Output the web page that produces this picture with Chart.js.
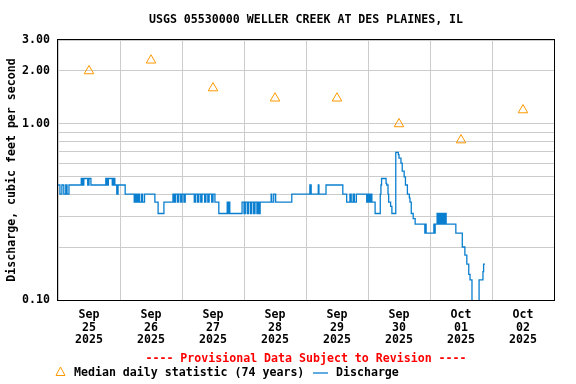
<!DOCTYPE html>
<html>
<head>
<meta charset="utf-8">
<title>USGS 05530000 Weller Creek</title>
<script src="https://cdn.jsdelivr.net/npm/chart.js"></script>
<style>
  html, body { margin: 0; padding: 0; background: #fff; }
  canvas { display: block; }
</style>
</head>
<body>
<canvas id="chart" width="576" height="384"></canvas>
<script>
// hours since 2025-09-25 00:00, value in cubic feet per second (stepped, 15-min data)
const dischargeHours = [
    0, 0.75, 1.5, 2.25, 3, 3.5, 4.25, 9, 9.5, 10, 11.5, 12, 12.75,
    18.5, 19, 19.5, 21, 21.5, 22, 22.75, 23.25, 26,
    29.5, 30, 30.5, 31, 31.5, 32.25, 32.75, 33.5, 37.5, 38.75, 41,
    44.5, 45, 45.5, 46.25, 46.75, 47.5, 48, 48.75, 49.25,
    52.75, 53.25, 54, 54.5, 55.25, 55.75, 56.75, 57.25, 58, 58.5, 59.5, 60, 60.75, 62.25,
    65.5, 65.75, 66.25, 66.5,
    71.25, 72, 72.5, 73.25, 73.75, 74.5, 75, 75.75, 76.25, 77, 77.5, 78, 78.25,
    82.5, 82.75, 83.5, 84.25,
    90.5, 97.5, 98, 100.75, 101, 103.75, 110.25, 111.75, 113, 113.5, 114.25, 114.75, 115.5,
    119.5, 120, 120.5, 121, 121.5, 122.75,
    124.75, 125, 125.25, 127, 127.25, 127.75, 128, 128.75, 129.25,
    130.75, 131.75, 132, 132.75, 133.25, 134, 134.5, 135.25, 136, 136.25, 136.75, 137.5, 138.25,
    142, 142.25, 142.5, 145.5, 145.75, 146, 146.75, 147.25, 147.75, 148.25, 148.75,
    149.25, 149.75, 150.25, 154, 156.5, 157.5, 158.25, 159, 159.5, 160.25,
    163, 164.5, 164.75, 165.25
];
const dischargeCfs = [
    0.45, 0.40, 0.45, 0.40, 0.45, 0.40, 0.45, 0.49, 0.45, 0.49, 0.45, 0.49, 0.45,
    0.49, 0.45, 0.49, 0.45, 0.49, 0.45, 0.40, 0.45, 0.40,
    0.36, 0.40, 0.36, 0.40, 0.36, 0.40, 0.36, 0.40, 0.36, 0.31, 0.36,
    0.40, 0.36, 0.40, 0.36, 0.40, 0.36, 0.40, 0.36, 0.40,
    0.36, 0.40, 0.36, 0.40, 0.36, 0.40, 0.36, 0.40, 0.36, 0.40, 0.36, 0.40, 0.36, 0.31,
    0.36, 0.31, 0.36, 0.31,
    0.36, 0.31, 0.36, 0.31, 0.36, 0.31, 0.36, 0.31, 0.36, 0.31, 0.36, 0.31, 0.36,
    0.40, 0.36, 0.40, 0.36,
    0.40, 0.45, 0.40, 0.45, 0.40, 0.45, 0.40, 0.36, 0.40, 0.36, 0.40, 0.36, 0.40,
    0.36, 0.40, 0.36, 0.40, 0.36, 0.31,
    0.40, 0.45, 0.49, 0.46, 0.45, 0.40, 0.36, 0.34, 0.31,
    0.69, 0.67, 0.64, 0.60, 0.54, 0.50, 0.45, 0.40, 0.38, 0.36, 0.31, 0.29, 0.27,
    0.24, 0.27, 0.24, 0.27, 0.24, 0.27, 0.31, 0.27, 0.31, 0.27, 0.31,
    0.27, 0.31, 0.27, 0.24, 0.20, 0.18, 0.16, 0.14, 0.13, 0.09,
    0.13, 0.145, 0.16, 0.16
];

// median daily statistic (74 years), plotted at noon of each day
const medianHours = [12, 36, 60, 84, 108, 132, 156, 180];
const medianCfs = [2.0, 2.3, 1.6, 1.4, 1.4, 1.0, 0.81, 1.2];

const dayMonths = ['Sep', 'Sep', 'Sep', 'Sep', 'Sep', 'Sep', 'Oct', 'Oct'];
const dayNumbers = ['25', '26', '27', '28', '29', '30', '01', '02'];
const dayYears = ['2025', '2025', '2025', '2025', '2025', '2025', '2025', '2025'];

const yGridValues = [0.1, 0.2, 0.3, 0.4, 0.5, 0.6, 0.7, 0.8, 0.9, 1, 2, 3];
const yLabelValues = [0.1, 1, 2, 3];

const titleText = 'USGS 05530000 WELLER CREEK AT DES PLAINES, IL';
const yTitleText = 'Discharge, cubic feet per second';
const provisionalText = '---- Provisional Data Subject to Revision ----';
const medianLabel = 'Median daily statistic (74 years)';
const dischargeLabel = 'Discharge';

const FONT_FAMILY = '"DejaVu Sans Mono", "Liberation Mono", monospace';
const FONT_SIZE = 11.6;
const BLUE = '#0a7fd0';
const ORANGE = '#ff9900';
const GRID = '#cccccc';

const xTickHours = [];
for (let h = 0; h <= 24 * dayNumbers.length; h += 12) xTickHours.push(h);

const usgsDecor = {
    id: 'usgsDecor',
    afterDraw(chart) {
        const { ctx, chartArea: a } = chart;
        const cx = (a.left + a.right) / 2;
        ctx.save();

        ctx.strokeStyle = '#000';
        ctx.lineWidth = 1;
        ctx.strokeRect(a.left - 0.5, a.top - 0.5, a.right - a.left + 1, a.bottom - a.top + 1);

        ctx.font = `bold ${FONT_SIZE}px ${FONT_FAMILY}`;
        ctx.textBaseline = 'middle';
        ctx.fillStyle = '#000';
        ctx.textAlign = 'center';
        ctx.fillText(titleText, cx, 20);

        ctx.fillStyle = '#ff0000';
        ctx.fillText(provisionalText, cx, 359);

        // legend row
        ctx.strokeStyle = ORANGE;
        ctx.lineWidth = 1;
        ctx.beginPath();
        ctx.moveTo(60.5, 367);
        ctx.lineTo(65, 375.5);
        ctx.lineTo(56, 375.5);
        ctx.closePath();
        ctx.stroke();

        ctx.fillStyle = '#000';
        ctx.textAlign = 'left';
        ctx.fillText(medianLabel, 74, 373);

        ctx.strokeStyle = BLUE;
        ctx.lineWidth = 1.3;
        ctx.beginPath();
        ctx.moveTo(313, 373);
        ctx.lineTo(328, 373);
        ctx.stroke();

        ctx.fillText(dischargeLabel, 336, 373);
        ctx.restore();
    }
};

new Chart(document.getElementById('chart'), {
    type: 'line',
    data: {
        datasets: [
            {
                label: dischargeLabel,
                data: dischargeHours.map((h, i) => ({ x: h, y: dischargeCfs[i] })),
                borderColor: BLUE,
                borderWidth: 1.3,
                stepped: true,
                pointRadius: 0,
                fill: false
            },
            {
                label: medianLabel,
                data: medianHours.map((h, i) => ({ x: h, y: medianCfs[i] })),
                showLine: false,
                pointStyle: 'triangle',
                pointRadius: 5.5,
                borderColor: ORANGE,
                backgroundColor: 'rgba(0,0,0,0)',
                borderWidth: 1
            }
        ]
    },
    options: {
        responsive: false,
        devicePixelRatio: 1,
        animation: false,
        layout: { padding: { top: 40, right: 22, left: 0, bottom: 0 } },
        plugins: {
            legend: { display: false },
            tooltip: { enabled: false },
            title: { display: false }
        },
        scales: {
            x: {
                type: 'linear',
                min: 0,
                max: 24 * dayNumbers.length,
                afterBuildTicks: scale => { scale.ticks = xTickHours.map(v => ({ value: v })); },
                afterFit: scale => { scale.height = 84; },
                border: { display: false },
                grid: {
                    drawTicks: false,
                    lineWidth: 1,
                    color: c => (c.tick && c.tick.value % 24 === 0) ? GRID : 'rgba(0,0,0,0)'
                },
                ticks: {
                    autoSkip: false,
                    maxRotation: 0,
                    minRotation: 0,
                    padding: 8,
                    color: '#000',
                    font: { family: FONT_FAMILY, size: FONT_SIZE, weight: 'bold', lineHeight: 1.12 },
                    callback: value => {
                        if (value % 24 !== 12) return '';
                        const d = Math.floor(value / 24);
                        return [dayMonths[d], dayNumbers[d], dayYears[d]];
                    }
                }
            },
            y: {
                type: 'logarithmic',
                min: 0.1,
                max: 3,
                afterBuildTicks: scale => { scale.ticks = yGridValues.map(v => ({ value: v })); },
                afterFit: scale => { scale.width = 58; },
                border: { display: false },
                grid: { drawTicks: false, color: GRID, lineWidth: 1 },
                ticks: {
                    padding: 8,
                    color: '#000',
                    font: { family: FONT_FAMILY, size: FONT_SIZE, weight: 'bold' },
                    callback: value => yLabelValues.includes(value) ? value.toFixed(2) : ''
                },
                title: {
                    display: true,
                    text: yTitleText,
                    color: '#000',
                    padding: { top: 5, bottom: 0 },
                    font: { family: FONT_FAMILY, size: FONT_SIZE, weight: 'bold', lineHeight: 1.12 }
                }
            }
        }
    },
    plugins: [usgsDecor]
});
</script>
</body>
</html>
